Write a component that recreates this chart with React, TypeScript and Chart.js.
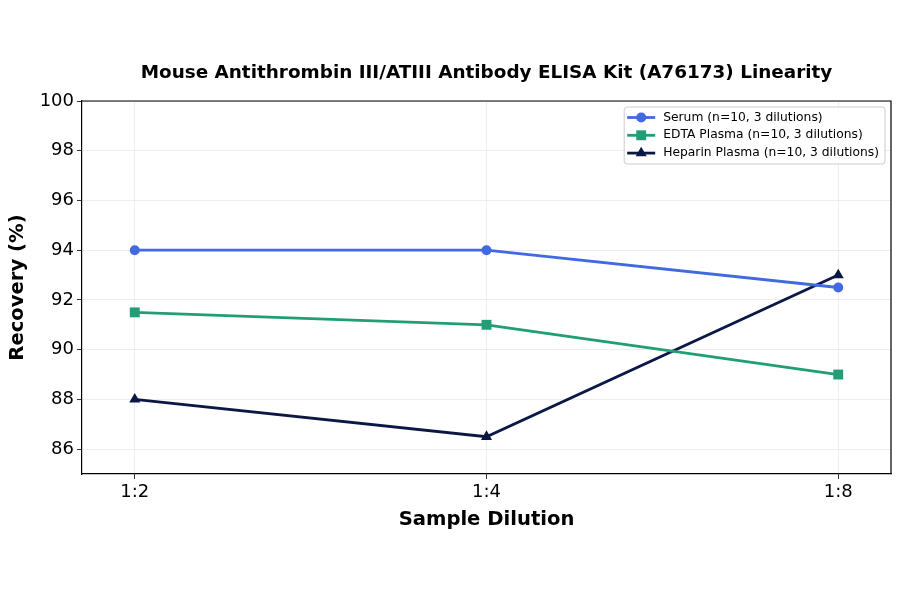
import { useEffect, useRef } from "react"
import { Chart, registerables } from "chart.js"
import { drawPoint } from "chart.js/helpers"

Chart.register(...registerables)

const dilutions = ["1:2", "1:4", "1:8"]
const serum = [94, 94, 92.5]
const edtaPlasma = [91.5, 91, 89]
const heparinPlasma = [88, 86.5, 93]
const yTicks = [86, 88, 90, 92, 94, 96, 98, 100]

const FONT = "'DejaVu Sans', sans-serif"
const TITLE = "Mouse Antithrombin III/ATIII Antibody ELISA Kit (A76173) Linearity"

// title, top/right frame and the in-plot legend
const decorations = {
  id: "decorations",
  afterDraw(chart: any) {
    const { ctx, chartArea } = chart
    const { left, right, top, bottom } = chartArea
    ctx.save()

    ctx.fillStyle = "#000"
    ctx.font = `bold 18.4px ${FONT}`
    ctx.textAlign = "center"
    ctx.textBaseline = "middle"
    ctx.fillText(TITLE, (left + right) / 2, 73)

    ctx.strokeStyle = "#000"
    ctx.lineWidth = 1.2
    ctx.beginPath()
    ctx.moveTo(left, top)
    ctx.lineTo(right, top)
    ctx.lineTo(right, bottom)
    ctx.stroke()

    // legend
    const sets = chart.data.datasets
    ctx.font = `12.3px ${FONT}`
    const textW = Math.max(...sets.map((d: any) => ctx.measureText(d.label).width))
    const boxW = 39 + textW + 6
    const boxH = 57
    const bx = right - 6 - boxW
    const by = top + 6
    ctx.fillStyle = "rgba(255,255,255,0.85)"
    ctx.strokeStyle = "#cccccc"
    ctx.lineWidth = 1
    ctx.beginPath()
    ctx.roundRect(bx, by, boxW, boxH, 3)
    ctx.fill()
    ctx.stroke()

    sets.forEach((d: any, i: number) => {
      const y = by + 10.5 + i * 17.8
      ctx.strokeStyle = d.borderColor
      ctx.lineWidth = d.borderWidth
      ctx.beginPath()
      ctx.moveTo(bx + 3, y)
      ctx.lineTo(bx + 31, y)
      ctx.stroke()
      ctx.fillStyle = d.borderColor
      drawPoint(ctx, { pointStyle: d.pointStyle, rotation: 0, borderWidth: 0, radius: d.pointRadius }, bx + 17, y)
      ctx.fillStyle = "#000"
      ctx.textAlign = "left"
      ctx.textBaseline = "middle"
      ctx.fillText(d.label, bx + 39, y)
    })
    ctx.restore()
  },
}

export default function App() {
  const chartRef = useRef<HTMLCanvasElement>(null)
  const chartInstance = useRef<Chart | null>(null)

  useEffect(() => {
    if (!chartRef.current) return
    if (chartInstance.current) chartInstance.current.destroy()
    const ctx = chartRef.current.getContext("2d")
    if (!ctx) return

    const series = (label: string, values: number[], color: string, style: string, r: number) => ({
      label,
      data: values.map((y, i) => ({ x: i, y })),
      borderColor: color,
      backgroundColor: color,
      borderWidth: 2.8,
      pointStyle: style,
      pointRadius: r,
      pointHoverRadius: r,
      pointBorderWidth: 0,
      tension: 0,
    })

    chartInstance.current = new Chart(ctx, {
      type: "line",
      data: {
        datasets: [
          series("Serum (n=10, 3 dilutions)", serum, "#4169E1", "circle", 5),
          series("EDTA Plasma (n=10, 3 dilutions)", edtaPlasma, "#229E77", "rect", 7),
          series("Heparin Plasma (n=10, 3 dilutions)", heparinPlasma, "#0B1846", "triangle", 6.4),
        ] as any,
      },
      options: {
        animation: false,
        responsive: true,
        maintainAspectRatio: false,
        layout: { padding: { left: 6, top: 101, right: 9, bottom: 62 } },
        plugins: {
          legend: { display: false },
          title: { display: false },
          tooltip: { enabled: false },
        },
        scales: {
          x: {
            type: "linear",
            min: -0.15,
            max: 2.15,
            afterBuildTicks: (scale: any) => {
              scale.ticks = dilutions.map((_, i) => ({ value: i }))
            },
            afterFit: (scale: any) => {
              scale.height = 58
            },
            ticks: {
              color: "#000",
              font: { family: FONT, size: 18 },
              padding: 3,
              maxRotation: 0,
              callback: (v: any) => dilutions[v] ?? "",
            },
            grid: { color: "rgba(0,0,0,0.09)", lineWidth: 0.8, tickColor: "#000", tickLength: 5 },
            border: { color: "#000", width: 1.2 },
            title: {
              display: true,
              text: "Sample Dilution",
              color: "#000",
              font: { family: FONT, size: 19.6, weight: "bold" },
              padding: { top: 0, bottom: 0 },
            },
          },
          y: {
            min: 85,
            max: 100,
            afterBuildTicks: (scale: any) => {
              scale.ticks = yTicks.map((value) => ({ value }))
            },
            afterFit: (scale: any) => {
              scale.width = 76
            },
            ticks: {
              color: "#000",
              font: { family: FONT, size: 18 },
              padding: 3,
            },
            grid: { color: "rgba(0,0,0,0.09)", lineWidth: 0.8, tickColor: "#000", tickLength: 5 },
            border: { color: "#000", width: 1.2 },
            title: {
              display: true,
              text: "Recovery (%)",
              color: "#000",
              font: { family: FONT, size: 19.6, weight: "bold" },
              padding: { top: 0, bottom: 0 },
            },
          },
        },
      },
      plugins: [decorations],
    })

    return () => {
      if (chartInstance.current) {
        chartInstance.current.destroy()
        chartInstance.current = null
      }
    }
  }, [])

  return (
    <div style={{ position: "absolute", left: 0, top: 0, width: 900, height: 594, background: "#fff" }}>
      <canvas ref={chartRef} />
    </div>
  )
}
